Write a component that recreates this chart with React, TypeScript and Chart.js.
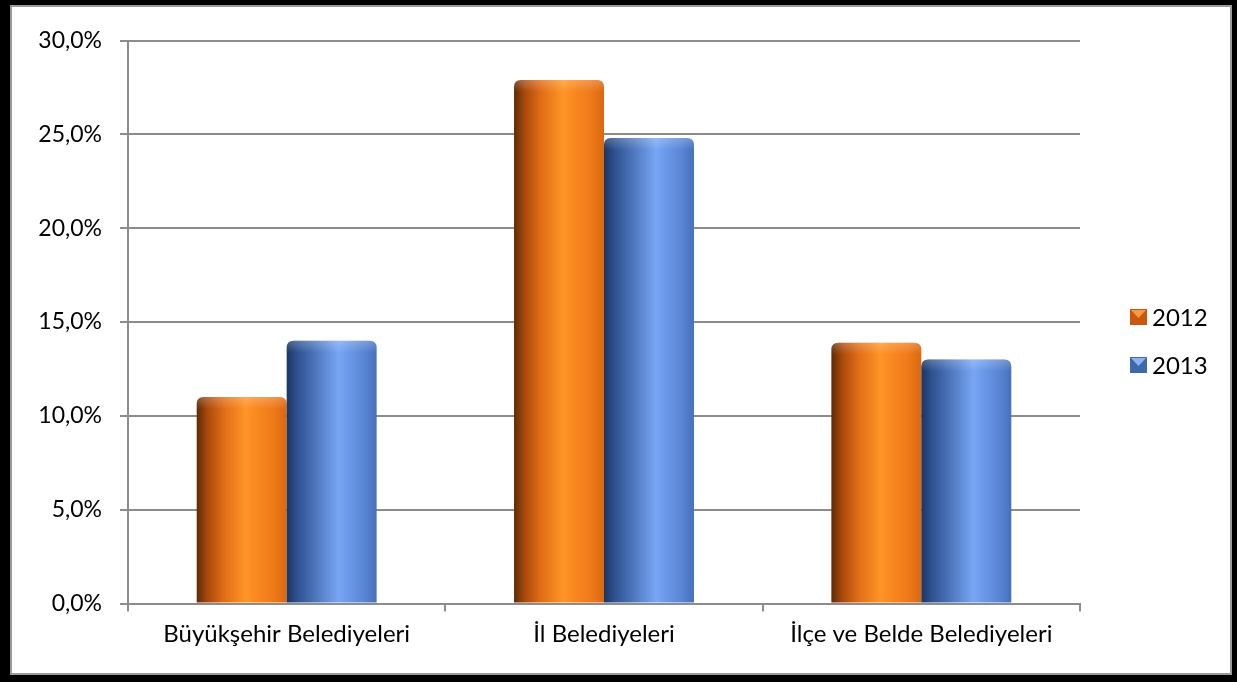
import React, { useEffect, useRef } from "react";
import { Chart, registerables } from "chart.js";

Chart.register(...registerables);

// ---- data ----
const categories = ["Büyükşehir Belediyeleri", "İl Belediyeleri", "İlçe ve Belde Belediyeleri"];
const seriesLabels = ["2012", "2013"];
const values2012 = [11.0, 27.9, 13.9];
const values2013 = [14.0, 24.8, 13.0];
const yMin = 0;
const yMax = 30;
const yStep = 5;

// ---- styles ----
const FONT = "Lato, 'Noto Sans', sans-serif";
const GRID = "#8c8c8c";
const orangeStops: [number, string][] = [
  [0, "#5e2a05"],
  [0.12, "#a9490c"],
  [0.3, "#e06d16"],
  [0.55, "#ff9528"],
  [0.62, "#fb8c22"],
  [0.85, "#ef7a1a"],
  [1, "#d9680f"],
];
const blueStops: [number, string][] = [
  [0, "#1c3563"],
  [0.12, "#2f5290"],
  [0.3, "#4a72b8"],
  [0.58, "#78a6f4"],
  [0.66, "#6e9cec"],
  [0.88, "#5783d2"],
  [1, "#4670ba"],
];
const seriesStops = [orangeStops, blueStops];
const legendColors = [
  ["#c9580c", "#f29a4a"],
  ["#3f69ad", "#8fb3ef"],
];

const cylinderPlugin = {
  id: "cylinderBars",
  afterDatasetsDraw(chart: any) {
    const ctx: CanvasRenderingContext2D = chart.ctx;
    chart.data.datasets.forEach((_: any, di: number) => {
      const meta = chart.getDatasetMeta(di);
      const stops = seriesStops[di];
      meta.data.forEach((el: any) => {
        const { x, y, base, width } = el.getProps(["x", "y", "base", "width"], true);
        const left = x - width / 2;
        const right = x + width / 2;
        const r = 7;
        const path = () => {
          ctx.beginPath();
          ctx.moveTo(left, base);
          ctx.lineTo(left, y + r);
          ctx.quadraticCurveTo(left, y, left + r, y);
          ctx.lineTo(right - r, y);
          ctx.quadraticCurveTo(right, y, right, y + r);
          ctx.lineTo(right, base);
          ctx.closePath();
        };
        ctx.save();
        const g = ctx.createLinearGradient(left, 0, right, 0);
        stops.forEach(([o, c]) => g.addColorStop(o, c));
        path();
        ctx.fillStyle = g;
        ctx.fill();
        ctx.clip();
        const hg = ctx.createLinearGradient(0, y, 0, y + 12);
        hg.addColorStop(0, "rgba(255,255,255,0.22)");
        hg.addColorStop(1, "rgba(255,255,255,0)");
        ctx.fillStyle = hg;
        ctx.fillRect(left, y, width, 12);
        ctx.restore();
      });
    });
  },
  afterDraw(chart: any) {
    const ctx: CanvasRenderingContext2D = chart.ctx;
    const area = chart.chartArea;
    const cy = (area.top + area.bottom) / 2;
    const bx = area.right + 50;
    chart.data.datasets.forEach((ds: any, i: number) => {
      const yc = cy - 5 + i * 48;
      const [dark, light] = legendColors[i];
      ctx.save();
      ctx.fillStyle = dark;
      ctx.fillRect(bx, yc - 8, 17, 16);
      ctx.fillStyle = light;
      ctx.beginPath();
      ctx.moveTo(bx + 1, yc - 7);
      ctx.lineTo(bx + 16, yc - 7);
      ctx.lineTo(bx + 8.5, yc + 1);
      ctx.closePath();
      ctx.fill();
      ctx.fillStyle = "#000";
      ctx.font = `24px ${FONT}`;
      ctx.textBaseline = "middle";
      ctx.textAlign = "left";
      ctx.fillText(ds.label, bx + 22, yc + 1);
      ctx.restore();
    });
  },
};

export default function App() {
  const ref = useRef<HTMLCanvasElement>(null);
  useEffect(() => {
    document.body.style.margin = "0";
    const chart = new Chart(ref.current as HTMLCanvasElement, {
      type: "bar",
      data: {
        labels: categories,
        datasets: [
          { label: seriesLabels[0], data: values2012, backgroundColor: "rgba(0,0,0,0)", borderWidth: 0 },
          { label: seriesLabels[1], data: values2013, backgroundColor: "rgba(0,0,0,0)", borderWidth: 0 },
        ],
      },
      options: {
        responsive: false,
        maintainAspectRatio: false,
        animation: false,
        devicePixelRatio: 1,
        layout: { padding: { top: 33.5, right: 150, left: 0, bottom: 0 } },
        datasets: { bar: { categoryPercentage: 0.567, barPercentage: 1 } },
        plugins: { legend: { display: false }, tooltip: { enabled: false } },
        scales: {
          x: {
            grid: { offset: true, drawOnChartArea: false, tickLength: 8, color: GRID, lineWidth: 2 },
            border: { color: GRID, width: 2 },
            ticks: { padding: 8, color: "#000", font: { family: FONT, size: 24 } },
            afterFit: (s: any) => {
              s.height = 69.5;
            },
          },
          y: {
            min: yMin,
            max: yMax,
            grid: { color: GRID, lineWidth: 2, tickLength: 8, drawTicks: true },
            border: { color: GRID, width: 2 },
            ticks: {
              stepSize: yStep,
              padding: 18,
              color: "#000",
              font: { family: FONT, size: 23 },
              callback: (v: any) => Number(v).toFixed(1).replace(".", ",") + "%",
            },
            afterFit: (s: any) => {
              s.width = 116;
            },
          },
        },
      },
      plugins: [cylinderPlugin],
    } as any);
    return () => chart.destroy();
  }, []);
  return (
    <div style={{ position: "fixed", left: 0, top: 0, width: 1237, height: 682, background: "#000" }}>
      <div
        style={{
          position: "absolute",
          left: 10,
          top: 5,
          width: 1222,
          height: 670,
          boxSizing: "border-box",
          border: "2px solid #9a9a9a",
          background: "#fff",
        }}
      >
        <canvas ref={ref} width={1218} height={666} style={{ display: "block", width: 1218, height: 666 }} />
      </div>
    </div>
  );
}
